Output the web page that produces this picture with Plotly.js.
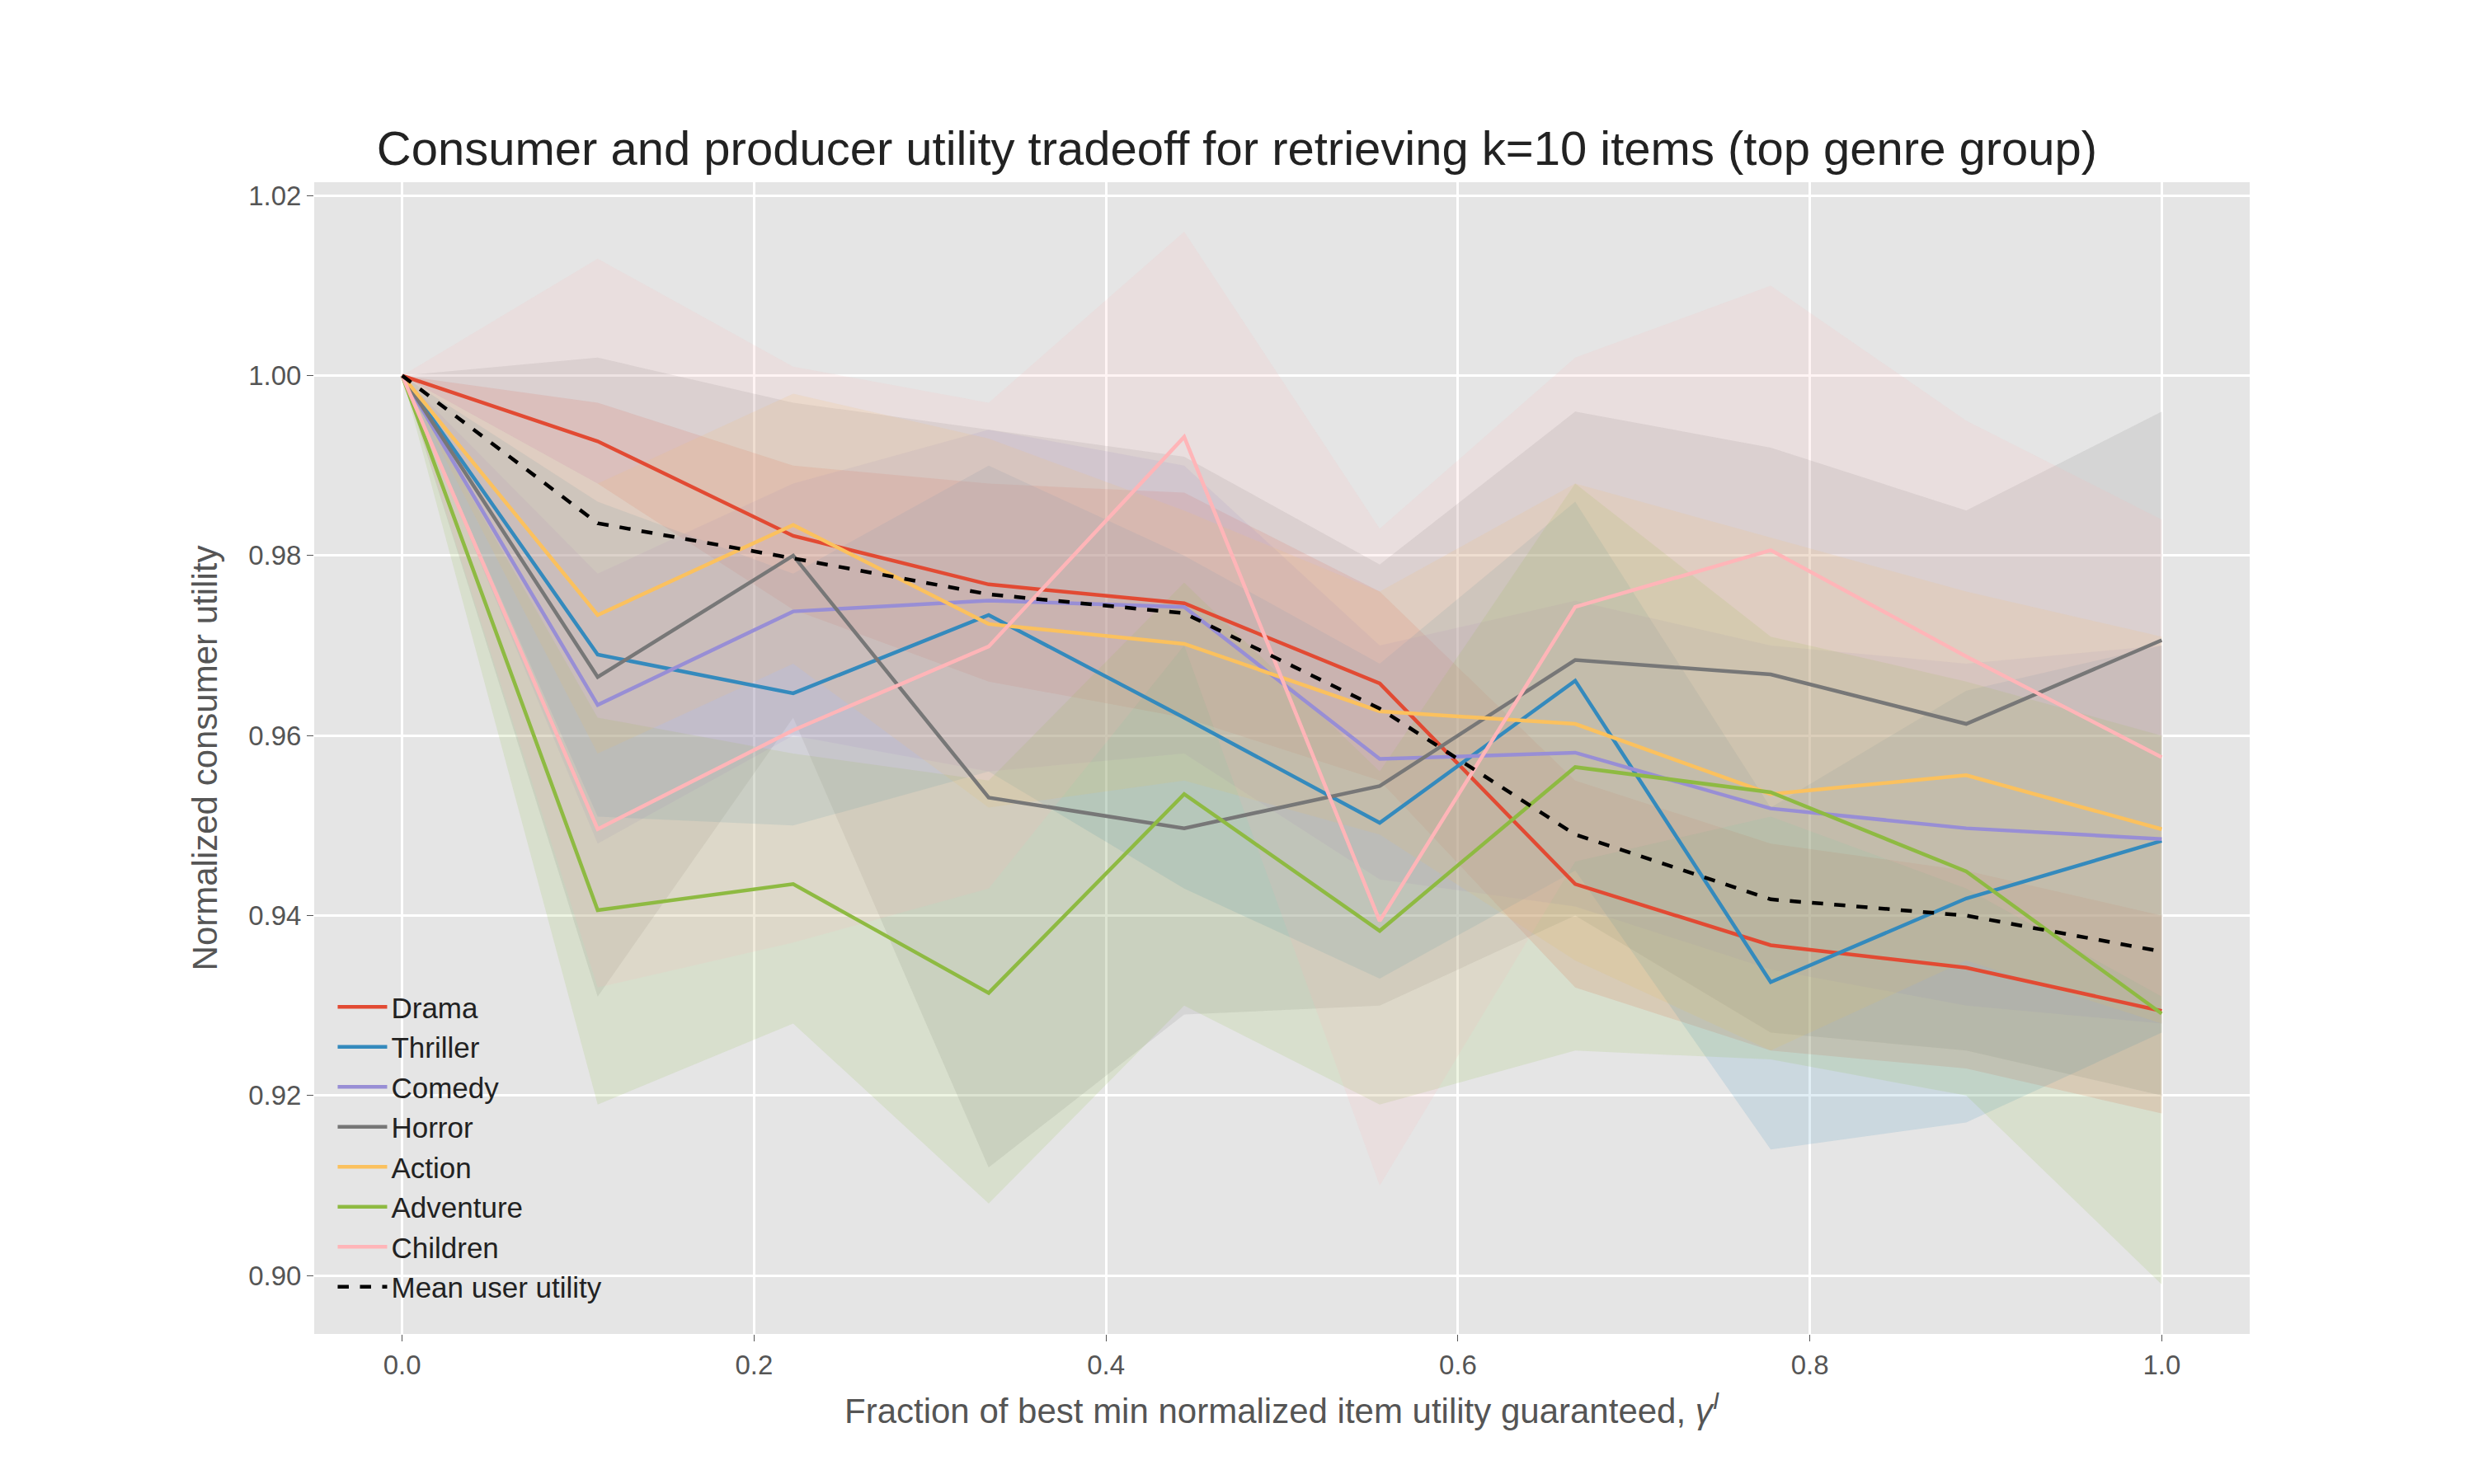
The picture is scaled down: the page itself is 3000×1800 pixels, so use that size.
<!DOCTYPE html>
<html>
<head>
<meta charset="utf-8">
<script src="https://cdn.plot.ly/plotly-3.0.1.min.js"></script>
<style>body{margin:0;background:#fff}#chart{width:3000px;height:1800px}</style>
</head>
<body>
<div id="chart"></div>
<script>
var gammas = [0, 1/9, 2/9, 3/9, 4/9, 5/9, 6/9, 7/9, 8/9, 1];
var genres = ['Drama', 'Thriller', 'Comedy', 'Horror', 'Action', 'Adventure', 'Children'];
var colors = ['#E24A33', '#348ABD', '#988ED5', '#777777', '#FBC15E', '#8EBA42', '#FFB5B8'];

var drama = [1, 0.9927, 0.9822, 0.9768, 0.9747, 0.9658, 0.9435, 0.9367, 0.9342, 0.9294];
var thriller = [1, 0.969, 0.9647, 0.9734, 0.962, 0.9503, 0.9661, 0.9326, 0.9419, 0.9483];
var comedy = [1, 0.9634, 0.9738, 0.975, 0.9743, 0.9574, 0.9581, 0.9519, 0.9497, 0.9485];
var horror = [1, 0.9665, 0.98, 0.9531, 0.9497, 0.9544, 0.9684, 0.9668, 0.9613, 0.9706];
var action = [1, 0.9734, 0.9834, 0.9724, 0.9702, 0.9627, 0.9613, 0.9535, 0.9556, 0.9496];
var adventure = [1, 0.9406, 0.9435, 0.9314, 0.9535, 0.9383, 0.9565, 0.9537, 0.9449, 0.9291];
var children = [1, 0.9496, 0.9606, 0.9699, 0.9932, 0.9394, 0.9743, 0.9806, 0.9688, 0.9576];
var meanUtil = [1, 0.9836, 0.9797, 0.9757, 0.9736, 0.963, 0.949, 0.9418, 0.94, 0.936];

var upper = [
  [1, 0.997, 0.99, 0.988, 0.987, 0.976, 0.955, 0.948, 0.945, 0.94],
  [1, 0.986, 0.978, 0.99, 0.98, 0.968, 0.986, 0.952, 0.965, 0.97],
  [1, 0.978, 0.988, 0.994, 0.99, 0.97, 0.975, 0.97, 0.968, 0.97],
  [1, 1.002, 0.997, 0.994, 0.991, 0.979, 0.996, 0.992, 0.985, 0.996],
  [1, 0.988, 0.998, 0.993, 0.985, 0.976, 0.988, 0.982, 0.976, 0.971],
  [1, 0.962, 0.958, 0.955, 0.977, 0.956, 0.988, 0.971, 0.966, 0.96],
  [1, 1.013, 1.001, 0.997, 1.016, 0.983, 1.002, 1.01, 0.995, 0.984]
];
var lower = [
  [1, 0.988, 0.974, 0.966, 0.962, 0.955, 0.932, 0.925, 0.923, 0.918],
  [1, 0.951, 0.95, 0.956, 0.943, 0.933, 0.945, 0.914, 0.917, 0.927],
  [1, 0.948, 0.96, 0.956, 0.958, 0.944, 0.941, 0.934, 0.93, 0.928],
  [1, 0.931, 0.962, 0.912, 0.929, 0.93, 0.94, 0.927, 0.925, 0.92],
  [1, 0.958, 0.968, 0.952, 0.955, 0.949, 0.935, 0.925, 0.935, 0.928],
  [1, 0.919, 0.928, 0.908, 0.93, 0.919, 0.925, 0.924, 0.92, 0.899],
  [1, 0.932, 0.937, 0.943, 0.97, 0.91, 0.946, 0.951, 0.943, 0.931]
];
var series = [drama, thriller, comedy, horror, action, adventure, children];

function hexA(h, a) {
  var r = parseInt(h.substr(1, 2), 16), g = parseInt(h.substr(3, 2), 16), b = parseInt(h.substr(5, 2), 16);
  return 'rgba(' + r + ',' + g + ',' + b + ',' + a + ')';
}

var data = [];
// shaded bands first so lines sit on top
genres.forEach(function (g, i) {
  data.push({x: gammas, y: lower[i], mode: 'lines', line: {width: 0}, showlegend: false, hoverinfo: 'skip'});
  data.push({x: gammas, y: upper[i], mode: 'lines', line: {width: 0}, fill: 'tonexty',
    fillcolor: hexA(colors[i], 0.15), showlegend: false, hoverinfo: 'skip'});
});
genres.forEach(function (g, i) {
  data.push({x: gammas, y: series[i], mode: 'lines', name: g, line: {color: colors[i], width: 4.5}});
});
data.push({x: gammas, y: meanUtil, mode: 'lines', name: 'Mean user utility', line: {color: '#000', width: 4.5, dash: 'dash'}});

var layout = {
  width: 3000, height: 1800,
  paper_bgcolor: '#fff', plot_bgcolor: '#E5E5E5',
  font: {family: 'Liberation Sans, Arial, sans-serif', color: '#555', size: 33},
  margin: {l: 381, r: 272, t: 221, b: 182},
  title: {text: 'Consumer and producer utility tradeoff for retrieving k=10 items (top genre group)',
    font: {size: 58, color: '#222'}, x: 0.5, xanchor: 'center', y: 0.9, yanchor: 'middle'},
  xaxis: {range: [-0.05, 1.05], tickvals: [0, 0.2, 0.4, 0.6, 0.8, 1.0], ticktext: ['0.0', '0.2', '0.4', '0.6', '0.8', '1.0'],
    gridcolor: '#fff', gridwidth: 3, zeroline: false, ticks: 'outside', ticklen: 8, tickcolor: '#555',
    title: {text: 'Fraction of best min normalized item utility guaranteed, <i>γ</i><sup><i>I</i></sup>', font: {size: 42, color: '#555'}, standoff: 24}},
  yaxis: {range: [0.8935, 1.0215], tickvals: [0.90, 0.92, 0.94, 0.96, 0.98, 1.00, 1.02],
    ticktext: ['0.90', '0.92', '0.94', '0.96', '0.98', '1.00', '1.02'],
    gridcolor: '#fff', gridwidth: 3, zeroline: false, ticks: 'outside', ticklen: 8, tickcolor: '#555',
    title: {text: 'Normalized consumer utility', font: {size: 42, color: '#555'}, standoff: 24}},
  legend: {x: 0.01, y: 0.02, xanchor: 'left', yanchor: 'bottom', bgcolor: 'rgba(0,0,0,0)',
    traceorder: 'normal', font: {size: 35, color: '#222'}, tracegroupgap: 0, itemwidth: 60}
};

Plotly.newPlot('chart', data, layout, {displayModeBar: false, staticPlot: true});
</script>
</body>
</html>
